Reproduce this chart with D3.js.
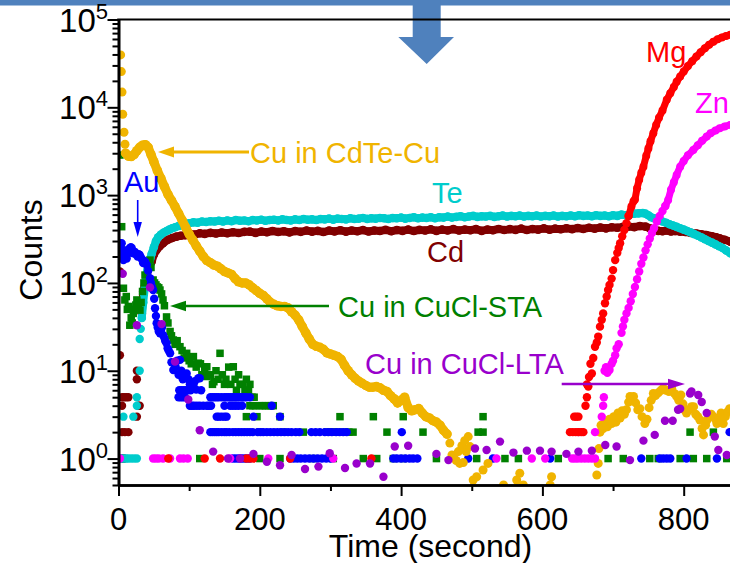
<!DOCTYPE html>
<html><head><meta charset="utf-8">
<script src="https://cdn.jsdelivr.net/npm/d3@7"></script>
<style>body{margin:0;background:#fff;overflow:hidden} svg{display:block;font-family:Arial,"Liberation Sans",sans-serif}</style>
</head><body><svg id="c" width="730" height="563"></svg>
<script>
// ---------- axis ticks ----------
const xMajor = [0, 200, 400, 600, 800];
const xMinor = [100, 300, 500, 700, 900];
const yExponents = [0, 1, 2, 3, 4, 5];

// ---------- Cu in CdTe-Cu (orange) ----------
const cuCdTeDots = [[3,39500],[4,25500],[5,14900],[6,8340],[7.8,5200],[9.2,3800],
 [469,1.5],[472,1.1],[474,1.05],[478,0.95],[481,1.2],[483,0.88],[486,1.4],[488,0.9],[490,1.6],[492,1.2],[495,1.78],[497.5,1.37],[502,0.57],[507,0.62],
 [516,0.74],[523,0.88],[545,0.5],[563.6,0.57],[568,0.68],[573,0.5],[611,0.5],[613,0.62],
 [677,0.65],[679,0.88],[680,1.3],[681.5,2.0],[683,2.4],[686,2.2],[689,2.6],[692,2.3],[695,2.8],[698,2.5],[701,3.0],[704,2.6],[707,3.3],[710,2.9],[713,3.5],[716,3.2],[719,3.6],[722,4.4],[724,5.1],[727,4.6],[729,5.1],[732,4.3],[735,3.6],[738,3.7],[741,3.0],[745,2.5],[748,2.8],[751,3.8],[754,4.6],[757,5.5],[760,5.2],[764,5.6],[768,6.0],[771,6.3],[775,6.0],[779,5.8],[783,6.3],[787,5.5],[790,5.1],[793,4.6],[796,5.3],[799,4.2],[801,3.6],[804,3.3],[808,3.6],[811,3.9],[814,3.9],[817,3.2],[820,3.0],[823,2.75],[826,2.2],[828,1.86],[831,2.4],[833,2.75],[836,3.0],[839,3.2],[842,3.0],[845,2.8],[847,2.5],[850,2.9],[853,3.3],[856,2.5],[859,3.0],[862,3.4],[865,3.7]];
const cuCdTeBand = [[10,3000],[14,2780],[18,2750],[22,2900],[26,3200],[30,3500],[34,3700],[38,3750],[42,3500],[46,2900],[50,2400],[55,1900],[60,1550],[65,1250],[70,1020],[75,870],[80,740],[85,620],[90,520],[95,430],[100,360],[105,310],[110,265],[115,230],[120,200],[125,180],[130,170],[135,160],[140,155],[145,145],[150,135],[155,130],[160,125],[165,112],[170,103],[175,100],[180,100],[185,95],[190,88],[195,82],[200,76],[205,72],[210,66],[215,60],[220,57],[225,55],[230,54],[235,54],[240,52],[245,47],[250,43],[255,38],[260,32],[265,27],[270,23],[275,20],[280,19],[285,18.5],[290,17.5],[295,16],[300,15.5],[305,15],[310,14.5],[315,13.5],[320,11.5],[325,10],[330,9],[335,8.2],[340,7.6],[345,7.2],[350,6.8],[355,6.5],[360,6.5],[365,6.6],[370,6.4],[375,6.0],[380,5.8],[385,5.2],[390,4.8],[395,4.3],[400,4.6],[405,5.0],[410,3.8],[415,3.5],[420,3.6],[425,3.7],[430,3.3],[435,3.0],[440,2.9],[445,2.7],[450,2.6],[455,2.4],[460,2.1],[465,1.9]];

// ---------- Te (cyan) ----------
const teDots = [[2,1],[5,1],[8,1],[11,1],[14,1],[18,1],[22,1],[26,1],[7,3],[21,3],[26,4],[26,5],[30,10],[30,23],[31.5,30]];
const teBand = [[33,40],[35,60],[37,85],[39,110],[41,140],[43,165],[45,190],[47,215],[50,255],[53,300],[56,330],[60,355],[64,375],[68,390],[72,405],[76,420],[80,430],[85,445],[90,455],[95,470],[100,478],[106,490],[112,485],[118,500],[124,495],[130,505],[136,500],[142,510],[148,500],[154,515],[160,505],[166,520],[172,510],[178,515],[184,505],[190,520],[196,515],[202,525],[208,510],[214,520],[220,525],[226,515],[232,530],[238,520],[244,515],[250,530],[256,520],[262,535],[268,525],[274,530],[280,520],[286,535],[292,530],[298,540],[304,525],[310,540],[316,535],[322,530],[328,545],[334,535],[340,540],[346,550],[352,535],[358,545],[364,540],[370,550],[376,545],[382,535],[388,550],[394,545],[400,555],[406,540],[412,550],[418,560],[424,545],[430,555],[436,550],[442,560],[448,545],[454,560],[460,555],[466,570],[472,555],[478,565],[484,575],[490,560],[496,570],[502,580],[508,565],[514,575],[520,570],[526,580],[532,565],[538,575],[544,585],[550,570],[556,580],[562,575],[568,585],[574,570],[580,580],[586,575],[592,585],[598,570],[604,580],[610,575],[616,585],[622,570],[628,580],[634,575],[640,585],[646,575],[652,590],[658,580],[664,585],[670,575],[676,590],[682,580],[688,585],[694,575],[700,590],[706,580],[712,600],[718,590],[724,605],[730,615],[736,620],[742,625],[746,615],[750,590],[754,560],[758,545],[762,530],[766,515],[770,500],[775,485],[780,465],[785,450],[790,435],[795,420],[800,405],[805,390],[810,375],[815,360],[820,345],[825,330],[830,315],[835,300],[840,288],[845,275],[850,262],[855,250],[860,235],[866,218],[872,205]];

// ---------- Cd (dark red) ----------
const cdDots = [[2,1],[4,1],[6,1],[8,1],[2,15],[2,135],[5,4],[5,5],[8,5],[11,5],[14,5],[5,2],[9,2],[14,2],[26,3],[28,4],[26,8],[26,10],[30,4]];
const cdBand = [[33,45],[35,80],[38,100],[40,118],[42,147],[45,165],[47,175],[50,210],[54,238],[58,260],[63,283],[70,310],[76,325],[82,337],[88,345],[95,350],[102,360],[108,355],[115,368],[122,362],[130,372],[138,365],[146,375],[154,368],[162,378],[170,370],[178,382],[186,384],[194,372],[202,385],[210,378],[218,390],[226,380],[234,388],[242,376],[250,390],[258,382],[266,395],[274,384],[282,392],[290,380],[298,395],[306,386],[314,398],[322,384],[330,395],[338,388],[346,400],[354,385],[362,396],[370,390],[378,402],[386,388],[394,400],[402,392],[410,405],[418,390],[426,402],[434,395],[442,408],[450,392],[458,405],[466,396],[474,410],[482,395],[490,405],[498,398],[506,410],[514,392],[522,405],[530,398],[538,412],[546,400],[554,410],[562,402],[570,415],[578,400],[586,412],[594,405],[602,418],[610,404],[618,415],[626,408],[634,420],[642,410],[650,422],[658,412],[666,425],[674,415],[682,428],[690,418],[698,430],[706,425],[714,435],[722,440],[730,432],[738,445],[746,438],[752,420],[758,400],[764,392],[770,388],[776,395],[782,385],[788,390],[795,384],[802,380],[810,372],[818,365],[825,358],[832,352],[840,340],[846,332],[851,323],[858,310],[866,295],[872,285]];

// ---------- Au (blue) ----------
const auDots = [[1,250],[2,283],[3,235],[4.5,283],[5,200],[6,225],[7,182],[8,215],[9,235],[10,205],[11.6,190],[13,215],[14.5,235],[16,248],[17.5,255],[18.7,248],[20,232],[21,218],[23,226],[25,212],[27,200],[28.5,212],[30,208],[31.5,196],[33,186],[35,168],[36.5,178],[38,172],[40,160],[42,138],[44.6,113],[46,100],[47.5,90],[49,83],[50.5,66],[51.7,51.5],[53,42],[54,34.8],[55.5,31],[57,28],[58.7,26.7],[60,29],[61.5,31],[63,25.6],[64.5,24],[66,22],[68,20.6],[69.5,18],[71,17],[73,15.8],[75,12.5],[77.6,10.2],[79,12],[81,11],[83,13],[85,9],[87,13.3],[89,10],[91,8],[93,9.2],[96.5,9.3],[99,8],[101,7],[103,6.2],[106,6.9],[108,7.6],[110,6.1],[113,8.2],[115,8.2],[117,6],
 [86,6],[89,6],[92,6],[95,6],[98,6],[102,6],[85,5],[88,5],[91,5],[94,5],[130,5],[133,5],[136,5],[139,5],[142,5],[146,5],[150,5],[153,5],[156,5],[159,5],[162,5],[165,5],[168,5],[172,5],[175,5],[178,5],[181,5],[186,5],
 [101,4],[104,4],[107,4],[111,4],[115,4],[120,4],[125,4],[128,4],[131,4],[150,4],[158,4],[162,4],[166,4],[170,4],[175,4],[217,4],
 [139,3],[142,3],[146,3],[150,3],[153,3],[191,3],[228.6,3],
 [130,2],[133,2],[136,2],[139,2],[142,2],[146,2],[150,2],[153,2],[157,2],[162,2],[166,2],[170,2],[174,2],[178,2],[182,2],[186,2],[190,2],[197,2],[201,2],[205,2],[210,2],[215,2],[220,2],[225,2],[230,2],[235,2],[240,2],[245,2],[251,2],[256,2],[273,2],[279,2],[285,2],[292,2],[297,2],[302,2],[308,2],[313,2],[318,2],[323,2],[401,2],[865,2],
 [162,1],[166,1],[170,1],[174,1],[178,1],[182,1],[186,1],[243,1],[248,1],[253,1],[258,1],[264,1],[270,1],[276,1],[282,1],[288,1],[294,1],[300,1],[389,1],[394,1],[400,1],[406,1],[412,1],[417,1],[423,1],[495,1],[530,1],[611,1],[740,1],[766,1],[771,1],[776,1],[781,1],[804,1],[847,1]];

// ---------- Cu in CuCl-STA (green squares) ----------
const staDots = [[2,2860],[4.5,437],[4.5,237],[7,87],[9,64],[11,70],[12.5,50],[14,54],[16,33],[18,40],[19.5,35],[21,45],[23,50],[24.5,56],[26,64],[28,55],[30.4,49],[32,60],[34,80],[36,100],[37.5,123],[40,168],[42,160],[44.6,182],[46,150],[49,108],[51,100],[53,95],[55,90],[57,88],[58.7,83],[61,75],[63,64],[65,55],[68,41],[70,35],[73,28],[75,25],[77.6,22.4],[80,20],[83,22],[87,18.8],[90,17],[93,14],[96.5,15.8],[100,13],[103,12],[106,14.5],[110,11],[113,12.2],[116,12],[118,9],[122,10],[125,11.1],[125,8.6],[130,9],[133,7],[135,7.5],[138,10],[141,8],[143.7,15.8],[147,9],[150,7],[152,8],[156,11],[159,7],[162.5,11.1],[165,8],[167,6],[170,9],[172,7],[176,7],[179,6],[181,8],[184,6],[186,7],[181,3],[189,5],[192,5],[196,3],[186,4],[190,4],[194,4],[200,4],[204,4],[208,4],[212,4],[216,4],[219,4],[200,2],[228.6,3],[233,2],[261.6,2],[295,2],[300,2],[305,2],[310,2],[320,2],[326,2],[332,2],[313.5,3],[360.7,3],[380,2],[403,3],[431,2],[509,2],[516,3],[516,2],[809,2],[842,2],
 [115,1],[200,1],[228.6,1],[275.7,1],[304,1],[346.5,1],[365.5,1],[389,1],[403,1],[450,1],[507,1],[547,1],[566,1],[622.5,1],[693,1],[714.5,1],[752,1],[764,1],[795,1],[813.6,1],[832.6,1],[861,1]];

// ---------- Cu in CuCl-LTA (purple) ----------
const ltaDots = [[6,127],[26,33],[44.6,89],[61,34],[80,12.7],[98.8,4.7],[115,2.1],[134,1.2],[155,1.0],[172,1.0],[191,1.13],[210,0.92],[228.6,0.84],[245,1.1],[264,0.76],[283,0.81],[299,1.15],[320.6,0.78],[337,0.88],[356,0.88],[375,0.62],[391,1.37],[410,1.4],[450,1.13],[467,0.96],[504.6,1.3],[521,1.25],[540,1.56],[559,1.17],[578,1.23],[596.6,1.23],[613,1.2],[634,1.13],[651,1.2],[670,1.23],[689,1.43],[705,1.37],[724,0.96],[743,1.6],[759,1.86],[773.5,2.7],[784.4,2.7],[792,3.6],[795,3.7],[809,5.5],[811,5.8],[820.6,5.3],[825.5,4.4],[832.6,3.3],[844,1.78],[849,1.25],[861,1.1]];

// ---------- Mg (red) ----------
const mgDots = [[70.5,1],[122,1],[143.7,1],[181,1],[186,1],[191,1],[243,1],[358,1],
 [639,2],[643,2],[647,2],[651,2],[655,2],[658,2],[645,3],[648,3],[651,3],
 [661,4],[663,5],[663,7],[665,6.6],[666,8.5],[668,12],[670,9.3],[672,14],[674.5,18.8],[677,21],[679,24.5],[681.5,31.8],[684,38],[686,45],[688.6,58.7],[691,70],[693,83],[695,95],[698,112],[700,140],[703,182],[706,220],[708,250],[710,283],[713,340],[716,400],[719,478],[722,580]];
const mgBand = [[722,580],[726,743],[729,850],[731,890],[734,1200],[737,1500],[740,1800],[743,2110],[747,2800],[750,3400],[753,4100],[757,5070],[761,6300],[765,7600],[770,9200],[776,12170],[781,14500],[786,17000],[790,19500],[795,22400],[800,25500],[806,29500],[812,33500],[818,37800],[824,42500],[830,47000],[836,51500],[842,55900],[848,59500],[854,62500],[860,65000],[866,67000],[872,69000]];

// ---------- Zn (magenta) ----------
const znDots = [[2,1],[49,1],[53,1],[57,1],[63,1],[73,1],[87,1],[92,1],[98,1],[158,1],[212,1],[304,1],[535,1],[585,1],[604,1],[642,1],[646,1],[650,1],[655,1],[660,1],[665,1],[670,1],[674.5,1],[651,2],[674.5,2],
 [684,3],[686,4],[687,5],[688,10],[690,11],[692,9.5],[695,10.2],[698,12],[700,13],[703,15],[705,18],[708,20],[712,27],[714,32],[716,38],[719,45],[722,52],[725,62],[728,75],[731,90],[734,110],[737,135],[740,165],[743,195],[746,235],[749,275],[752,320],[755,370],[758,420],[762,500],[766,580],[770,660],[774,750]];
const znBand = [[774,750],[778,880],[782,1150],[786,1400],[790,1700],[795,2110],[800,2450],[806,2850],[813.6,3270],[820,3700],[826,4150],[832.6,4640],[838,5050],[845,5450],[851,5780],[858,6050],[866,6310],[872,6500]];

// ---------- colours ----------
const C = {orange:"#F0B400", te:"#00CCCC", cd:"#800000", au:"#0000FF", sta:"#008000", lta:"#9900CC", mg:"#FF0000", zn:"#FF00FF", banner:"#4F81BD"};

const svg = d3.select("#c");
const x = d3.scaleLinear().domain([0, 900]).range([118.5, 754.35]);
const y = d3.scaleLog().domain([0.5, 1e5]).range([485, 19.5]);

// banner + big arrow
svg.append("rect").attr("x",0).attr("y",0).attr("width",730).attr("height",5.5).attr("fill",C.banner);
svg.append("polygon").attr("points","412.7,0 440.7,0 440.7,37 454,37 426.7,64 398.3,37 412.7,37").attr("fill",C.banner);

svg.append("clipPath").attr("id","plot").append("rect")
  .attr("x",118.5).attr("y",19.5).attr("width",636).attr("height",466);
const g = svg.append("g").attr("clip-path","url(#plot)");

const line = d3.line().x(d=>x(d[0])).y(d=>y(d[1])).curve(d3.curveLinear);
function band(data, color, w, r) {
  g.append("path").datum(data).attr("d", line).attr("fill","none")
   .attr("stroke", color).attr("stroke-width", w).attr("stroke-linejoin","round").attr("stroke-linecap","round");
  dots(data, color, r);
}
function dots(data, color, r) {
  g.append("g").selectAll("circle").data(data).join("circle")
   .attr("cx", d=>x(d[0])).attr("cy", d=>y(d[1])).attr("r", r).attr("fill", color);
}
function squares(data, color, s) {
  g.append("g").selectAll("rect").data(data).join("rect")
   .attr("x", d=>x(d[0])-s/2).attr("y", d=>y(d[1])-s/2).attr("width", s).attr("height", s).attr("fill", color);
}

band(cdBand, C.cd, 8, 4.3); dots(cdDots, C.cd, 4.2);
band(teBand, C.te, 8, 4.3); dots(teDots, C.te, 4.2);
squares(staDots, C.sta, 7.5);
dots(auDots, C.au, 4.2);
band(cuCdTeBand, C.orange, 9, 4.8); dots(cuCdTeDots, C.orange, 4.5);
dots(znDots, C.zn, 4.2); band(znBand, C.zn, 7, 4.0);
dots(mgDots, C.mg, 4.2); band(mgBand, C.mg, 7, 4.0);
dots(ltaDots, C.lta, 4.2);

// ---------- axes ----------
const yMajor = yExponents.map(e => Math.pow(10, e));
const yMinor = [];
for (let e = -1; e <= 4; e++) for (let m = 2; m <= 9; m++) { const v = m * Math.pow(10, e); if (v >= 0.5 && v < 1e5) yMinor.push(v); }

function styleAxis(sel, w) {
  sel.selectAll("path.domain").attr("stroke","#000").attr("stroke-width",w);
  sel.selectAll(".tick line").attr("stroke","#000").attr("stroke-width",2);
}
const axL = svg.append("g").attr("transform","translate(118.5,0)");
axL.append("g").call(d3.axisLeft(y).tickValues(yMinor).tickSize(6).tickSizeOuter(0).tickFormat("")).call(styleAxis, 2.6);
axL.append("g").call(d3.axisLeft(y).tickValues(yMajor).tickSize(11).tickSizeOuter(0).tickFormat("")).call(styleAxis, 2.6);

const axB = svg.append("g").attr("transform","translate(0,485.5)");
axB.append("g").call(d3.axisBottom(x).tickValues(xMinor).tickSize(5.5).tickSizeOuter(0).tickFormat("")).call(styleAxis, 2.6);
axB.append("g").call(d3.axisBottom(x).tickValues(xMajor).tickSize(10.5).tickSizeOuter(0).tickFormat("")).call(styleAxis, 2.6);
axB.selectAll("path.domain").attr("d","M118.5,0H754.35");

// top frame
svg.append("line").attr("x1",117.2).attr("x2",754).attr("y1",y(1e5)).attr("y2",y(1e5)).attr("stroke","#000").attr("stroke-width",2.2);

// tick labels
svg.append("g").selectAll("text").data(xMajor).join("text")
  .attr("x", d=>x(d)).attr("y", 530).attr("text-anchor","middle")
  .attr("font-size",31).attr("fill","#000").text(d=>d);

const yl = svg.append("g").selectAll("text").data(yExponents).join("text")
  .attr("x", 108).attr("y", d=>y(Math.pow(10,d)) + 12).attr("text-anchor","end")
  .attr("font-size",33).attr("fill","#000");
yl.append("tspan").text("10");
yl.append("tspan").attr("dy",-13).attr("font-size",22).text(d=>d);

// axis titles
svg.append("text").attr("x",430.5).attr("y",557).attr("text-anchor","middle").attr("font-size",32).attr("fill","#000").text("Time (second)");
svg.append("text").attr("transform","translate(42,250) rotate(-90)").attr("text-anchor","middle").attr("font-size",32).attr("fill","#000").text("Counts");

// ---------- annotations ----------
function label(t, px, py, color) {
  svg.append("text").attr("x",px).attr("y",py).attr("font-size",29).attr("fill",color).text(t);
}
label("Cu in CdTe-Cu", 250, 163, C.orange);
label("Au", 124, 192, C.au);
label("Te", 432, 203, C.te);
label("Cd", 427, 262, C.cd);
label("Cu in CuCl-STA", 338, 317, C.sta);
label("Cu in CuCl-LTA", 365, 374, C.lta);
label("Mg", 646, 62, C.mg);
label("Zn", 695, 113, C.zn);

function hArrow(x1, x2, yy, color, w, head, half) {
  const dir = Math.sign(x2 - x1);
  svg.append("line").attr("x1",x1).attr("x2",x2 - dir*head*0.8).attr("y1",yy).attr("y2",yy).attr("stroke",color).attr("stroke-width",w);
  svg.append("polygon").attr("points",`${x2},${yy} ${x2-dir*head},${yy-half} ${x2-dir*head},${yy+half}`).attr("fill",color);
}
hArrow(249, 158, 152, C.orange, 3, 16, 5.5);
hArrow(329, 170, 306, C.sta, 2.5, 16, 5.2);
hArrow(561.7, 685, 384, C.lta, 2.5, 17, 5.2);
// Au vertical arrow
svg.append("line").attr("x1",137.7).attr("x2",137.7).attr("y1",200).attr("y2",226).attr("stroke",C.au).attr("stroke-width",1.6);
svg.append("polygon").attr("points","137.7,237 133.5,222 141.9,222").attr("fill",C.au);
</script></body></html>
